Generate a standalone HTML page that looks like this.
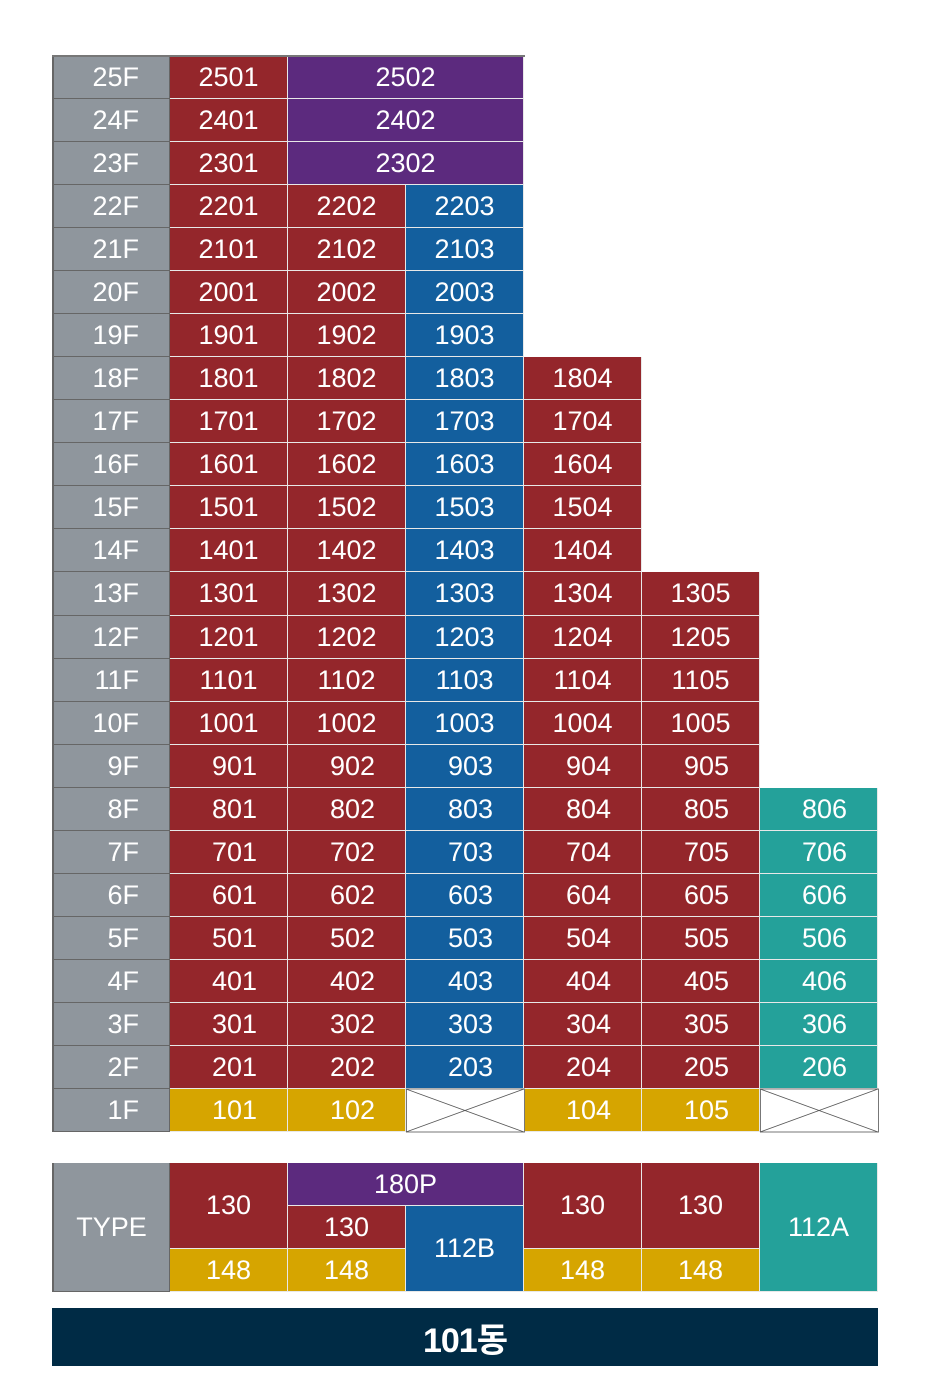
<!DOCTYPE html>
<html><head><meta charset="utf-8"><style>
body{margin:0;width:950px;height:1374px;background:#fff;position:relative;overflow:hidden;font-family:"Liberation Sans","Noto Sans CJK KR",sans-serif}
.c{position:absolute;box-sizing:border-box;color:#fff;font-size:27px;display:flex;align-items:center;justify-content:center;border-right:1px solid #e8e8e8;border-bottom:1px solid #e8e8e8}
.r{justify-content:flex-end;padding-right:30px}
.g{background:#8f969d;border:1px solid #666;border-top:none;border-left:2px solid #666}
.red{background:#94262b}.pur{background:#5c2a7e}.blu{background:#135f9e}.tea{background:#24a19a}.gol{background:#d6a500}
</style></head><body>
<svg id="xs" width="950" height="1374" style="position:absolute;left:0;top:0;pointer-events:none;z-index:5"></svg>
<script>
const X=[52,170,288,406,524,642,760,878];
const Y0=56,RH=43.04;
const floors=[25,24,23,22,21,20,19,18,17,16,15,14,13,12,11,10,9,8,7,6,5,4,3,2,1];
function cell(x0,x1,y0,y1,cls,txt,name){
  const d=document.createElement('div');
  d.className='c '+cls;
  d.style.left=x0+'px';d.style.top=y0+'px';d.style.width=(x1-x0)+'px';d.style.height=(y1-y0)+'px';
  d.textContent=txt;
  
  
  document.body.appendChild(d);return d;
}
const svg=document.getElementById('xs');
floors.forEach((f,i)=>{
  const y0=Math.round(Y0+i*RH),y1=Math.round(Y0+(i+1)*RH);
  cell(X[0],X[1],y0,y1,'g r'+(i===0?'':''),f+'F','floor-label');
  if(i===0){}
  const id=n=>f*100+n;
  const cols=f>=23?1:f>=19?3:f>=14?4:f>=9?5:6;
  const al=f<10?' r':'';
  if(f===1){
    const cs=[['gol','101'],['gol','102'],null,['gol','104'],['gol','105'],null];
    cs.forEach((c,k)=>{
      if(c) cell(X[k+1],X[k+2],y0,y1,'gol r',c[1],'unit-'+c[1]);
      else{
        svg.insertAdjacentHTML('beforeend',`<rect x="${X[k+1]+0.5}" y="${y0}" width="${X[k+2]-X[k+1]}" height="${y1-y0}" fill="#fff" stroke="#777"/><line x1="${X[k+1]}" y1="${y0}" x2="${X[k+2]}" y2="${y1}" stroke="#555" stroke-width="0.8"/><line x1="${X[k+1]}" y1="${y1}" x2="${X[k+2]}" y2="${y0}" stroke="#555" stroke-width="0.8"/>`);
      }
    });
    return;
  }
  cell(X[1],X[2],y0,y1,'red'+al,String(id(1)),'unit-'+id(1));
  if(f>=23){cell(X[2],X[4],y0,y1,'pur',String(id(2)),'unit-'+id(2));return;}
  cell(X[2],X[3],y0,y1,'red'+al,String(id(2)),'unit-'+id(2));
  cell(X[3],X[4],y0,y1,'blu'+al,String(id(3)),'unit-'+id(3));
  if(cols>=4)cell(X[4],X[5],y0,y1,'red'+al,String(id(4)),'unit-'+id(4));
  if(cols>=5)cell(X[5],X[6],y0,y1,'red'+al,String(id(5)),'unit-'+id(5));
  if(cols>=6)cell(X[6],X[7],y0,y1,'tea'+al,String(id(6)),'unit-'+id(6));
});
// outer border top
const tb=document.createElement('div');tb.style.cssText='position:absolute;left:52px;top:55px;width:473px;height:2px;background:#777';


document.body.appendChild(tb);
// type table
const T0=1163,T1=1206,T2=1249,T3=1292;
cell(X[0],X[1],T0,T3,'g','TYPE','type-label');
cell(X[1],X[2],T0,T2,'red','130','type-130-a');
cell(X[1],X[2],T2,T3,'gol','148','type-148-a');
cell(X[2],X[4],T0,T1,'pur','180P','type-180p');
cell(X[2],X[3],T1,T2,'red','130','type-130-b');
cell(X[2],X[3],T2,T3,'gol','148','type-148-b');
cell(X[3],X[4],T1,T3,'blu','112B','type-112b');
cell(X[4],X[5],T0,T2,'red','130','type-130-c');
cell(X[4],X[5],T2,T3,'gol','148','type-148-c');
cell(X[5],X[6],T0,T2,'red','130','type-130-d');
cell(X[5],X[6],T2,T3,'gol','148','type-148-d');
cell(X[6],X[7],T0,T3,'tea','112A','type-112a');
const b=cell(52,878,1308,1366,'','101동','building-banner');
b.style.background='#002b45';b.style.fontSize='34px';b.style.fontWeight='bold';b.style.border='none';b.style.letterSpacing='-1px';
</script>
</body></html>
